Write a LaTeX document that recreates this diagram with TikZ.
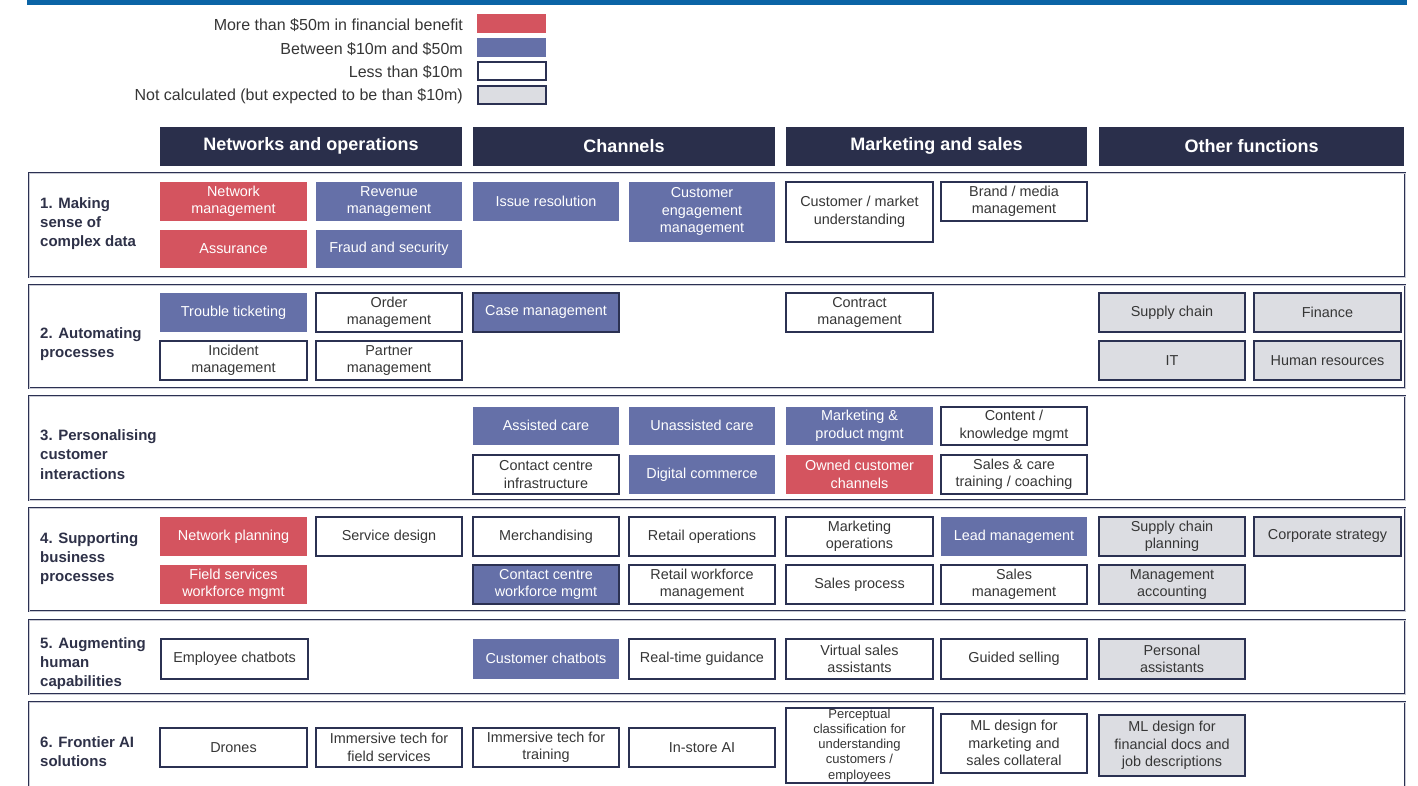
\documentclass[tikz,border=0pt]{standalone}
\usepackage{fontspec}
\setmainfont{Liberation Sans}
\definecolor{cred}{HTML}{D4545F}
\definecolor{cpur}{HTML}{6570A8}
\definecolor{cgry}{HTML}{DCDDE2}
\definecolor{cnavy}{HTML}{2A2F4B}
\definecolor{cframe}{HTML}{2B3152}
\definecolor{ctxt}{HTML}{363636}
\definecolor{clab}{HTML}{2E3148}
\definecolor{cbar}{HTML}{0B64A6}
\newcommand\cellbox[7]{\node[#2, minimum width={(#5-#3)*1pt}, minimum height={(#6-#4)*1pt}] (#1) at ({(#3+#5)/2},{(#4+#6)/2+0.8}) {#7};}
\begin{document}
\begin{tikzpicture}[x=1pt,y=-1pt,
  cell/.style={rectangle, inner sep=0pt, align=center, font=\fontsize{14.4}{17.5}\selectfont, text=ctxt},
  bigbox/.style={cell, fill=cred, text=white},
  midbox/.style={cell, fill=cpur, text=white},
  midedge/.style={cell, fill=cpur, text=white, draw=cframe, line width=1.6pt},
  smallbox/.style={cell, fill=white, draw=cframe, line width=1.6pt},
  nocalc/.style={cell, fill=cgry, draw=cframe, line width=1.6pt},
  hdr/.style={rectangle, inner sep=0pt, fill=cnavy, text=white, font=\fontsize{18}{20}\selectfont\bfseries},
  rowframe/.style={draw=cframe, line width=1.1pt, double=white!75!cframe, double distance=0.7pt},
  rowlab/.style={anchor=west, align=left, inner sep=0pt, text=clab, font=\fontsize{15}{19.2}\selectfont\bfseries},
  legtxt/.style={anchor=east, inner sep=0pt, text=ctxt, font=\fontsize{16}{18}\selectfont}]
\useasboundingbox (0,0) rectangle (1418,785);
\clip (0,0) rectangle (1418,785);
\fill[white] (0,0) rectangle (1418,785);
% top bar
\fill[cbar] (27,0) rectangle (1407,5);
% legend
\node[bigbox, minimum width=69pt, minimum height=19pt] (leg1) at (511.5,23.5) {};
\node[midbox, minimum width=69pt, minimum height=19pt] (leg2) at (511.5,47.5) {};
\node[smallbox, minimum width=68pt, minimum height=18pt] (leg3) at (512,71) {};
\node[nocalc, minimum width=68pt, minimum height=18pt] (leg4) at (512,95) {};
\node[legtxt] (lt1) at (463,25) {More than \$50m in financial benefit};
\node[legtxt] (lt2) at (463,49) {Between \$10m and \$50m};
\node[legtxt] (lt3) at (463,72) {Less than \$10m};
\node[legtxt] (lt4) at (463,96) {Not calculated (but expected to be than \$10m)};
% headers
\cellbox{h1}{hdr}{160}{126}{462}{165}{Networks and operations}
\cellbox{h2}{hdr}{473}{126}{775}{165}{Channels}
\cellbox{h3}{hdr}{786}{126}{1087}{165}{Marketing and sales}
\cellbox{h4}{hdr}{1099}{126}{1404}{165}{Other functions}
% row frames
\draw[rowframe] (29,173) rectangle (1405,277);
\draw[rowframe] (29,285) rectangle (1405,388);
\draw[rowframe] (29,396) rectangle (1405,500);
\draw[rowframe] (29,508) rectangle (1405,611);
\draw[rowframe] (29,620) rectangle (1405,694);
\draw[rowframe] (29,702) rectangle (1405,820);
% row labels
\node[rowlab] (r1) at (40,223.5) {1. Making\\sense of\\complex data};
\node[rowlab] (r2) at (40,344) {2. Automating\\processes};
\node[rowlab] (r3) at (40,454.5) {3. Personalising\\customer\\interactions};
\node[rowlab] (r4) at (40,558.5) {4. Supporting\\business\\processes};
\node[rowlab] (r5) at (40,663.5) {5. Augmenting\\human\\capabilities};
\node[rowlab] (r6) at (40,752) {6. Frontier AI\\solutions};
% row 1
\cellbox{a1}{bigbox}{160}{181}{307}{220}{Network\\management}
\cellbox{a2}{bigbox}{160}{229}{307}{267}{Assurance}
\cellbox{a3}{midbox}{316}{181}{462}{220}{Revenue\\management}
\cellbox{a4}{midbox}{316}{229}{462}{267}{Fraud and security}
\cellbox{a5}{midbox}{473}{181}{619}{220}{Issue resolution}
\cellbox{a6}{midbox}{629}{181}{775}{241}{Customer\\engagement\\management}
\cellbox{a7}{smallbox}{786}{181}{933}{241}{Customer / market\\understanding}
\cellbox{a8}{smallbox}{941}{181}{1087}{220}{Brand / media\\management}
% row 2
\cellbox{b1}{midbox}{160}{292}{307}{331}{Trouble ticketing}
\cellbox{b2}{smallbox}{316}{292}{462}{331}{Order\\management}
\cellbox{b3}{smallbox}{160}{340}{307}{379}{Incident\\management}
\cellbox{b4}{smallbox}{316}{340}{462}{379}{Partner\\management}
\cellbox{b5}{midedge}{473}{292}{619}{331}{Case management}
\cellbox{b6}{smallbox}{786}{292}{933}{331}{Contract\\management}
\cellbox{b7}{nocalc}{1099}{292}{1245}{331}{Supply chain}
\cellbox{b8}{nocalc}{1254}{292}{1401}{331}{Finance}
\cellbox{b9}{nocalc}{1099}{340}{1245}{379}{IT}
\cellbox{b10}{nocalc}{1254}{340}{1401}{379}{Human resources}
% row 3
\cellbox{c1}{midbox}{473}{406}{619}{444}{Assisted care}
\cellbox{c2}{midbox}{629}{406}{775}{444}{Unassisted care}
\cellbox{c3}{midbox}{786}{406}{933}{444}{Marketing \&\\product mgmt}
\cellbox{c4}{smallbox}{941}{406}{1087}{444}{Content /\\knowledge mgmt}
\cellbox{c5}{smallbox}{473}{454}{619}{493}{Contact centre\\infrastructure}
\cellbox{c6}{midbox}{629}{454}{775}{493}{Digital commerce}
\cellbox{c7}{bigbox}{786}{454}{933}{493}{Owned customer\\channels}
\cellbox{c8}{smallbox}{941}{454}{1087}{493}{Sales \& care\\training / coaching}
% row 4
\cellbox{d1}{bigbox}{160}{516}{307}{555}{Network planning}
\cellbox{d2}{smallbox}{316}{516}{462}{555}{Service design}
\cellbox{d3}{smallbox}{473}{516}{619}{555}{Merchandising}
\cellbox{d4}{smallbox}{629}{516}{775}{555}{Retail operations}
\cellbox{d5}{smallbox}{786}{516}{933}{555}{Marketing\\operations}
\cellbox{d6}{midbox}{941}{516}{1087}{555}{Lead management}
\cellbox{d7}{nocalc}{1099}{516}{1245}{555}{Supply chain\\planning}
\cellbox{d8}{nocalc}{1254}{516}{1401}{555}{Corporate strategy}
\cellbox{d9}{bigbox}{160}{564}{307}{603}{Field services\\workforce mgmt}
\cellbox{d10}{midedge}{473}{564}{619}{603}{Contact centre\\workforce mgmt}
\cellbox{d11}{smallbox}{629}{564}{775}{603}{Retail workforce\\management}
\cellbox{d12}{smallbox}{786}{564}{933}{603}{Sales process}
\cellbox{d13}{smallbox}{941}{564}{1087}{603}{Sales\\management}
\cellbox{d14}{nocalc}{1099}{564}{1245}{603}{Management\\accounting}
% row 5
\cellbox{e1}{smallbox}{161}{638}{308}{678}{Employee chatbots}
\cellbox{e2}{midbox}{473}{638}{619}{678}{Customer chatbots}
\cellbox{e3}{smallbox}{629}{638}{775}{678}{Real-time guidance}
\cellbox{e4}{smallbox}{786}{638}{933}{678}{Virtual sales\\assistants}
\cellbox{e5}{smallbox}{941}{638}{1087}{678}{Guided selling}
\cellbox{e6}{nocalc}{1099}{638}{1245}{678}{Personal\\assistants}
% row 6
\cellbox{f1}{smallbox}{160}{727}{307}{766}{Drones}
\cellbox{f2}{smallbox}{316}{727}{462}{766}{Immersive tech for\\field services}
\cellbox{f3}{smallbox}{473}{727}{619}{766}{Immersive tech for\\training}
\cellbox{f4}{smallbox}{629}{727}{775}{766}{In-store AI}
\cellbox{f5}{smallbox, font=\fontsize{13}{15.2}\selectfont}{786}{707}{933}{782}{Perceptual\\classification for\\understanding\\customers /\\employees}
\cellbox{f6}{smallbox}{941}{713}{1087}{772}{ML design for\\marketing and\\sales collateral}
\cellbox{f7}{nocalc}{1099}{714}{1245}{775}{ML design for\\financial docs and\\job descriptions}
\end{tikzpicture}
\end{document}
